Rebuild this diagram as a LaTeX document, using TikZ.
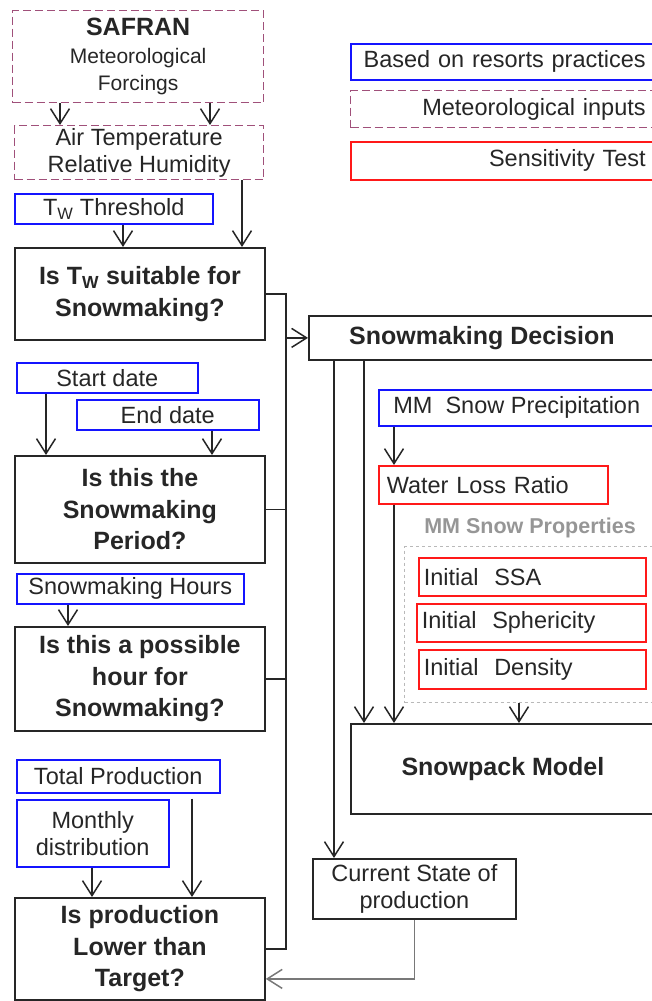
\documentclass[tikz,border=0pt]{standalone}
\usepackage{fontspec}
\setmainfont{Liberation Sans}
\usetikzlibrary{arrows.meta,positioning}
\definecolor{metpurple}{RGB}{160,80,122}
\definecolor{pracblue}{RGB}{20,20,255}
\definecolor{sensred}{RGB}{255,25,25}
\definecolor{propgray}{RGB}{185,185,185}
\definecolor{labelgray}{RGB}{150,150,150}
\definecolor{feedgray}{RGB}{120,120,120}
\newcommand{\txtsize}{\fontsize{23.5}{27}\selectfont}
\newcommand{\subsize}{\fontsize{21}{27.5}\selectfont}
\newcommand{\qsize}{\fontsize{25}{31.5}\selectfont\bfseries}
\tikzset{
  base/.style     ={rectangle,inner sep=2pt,align=center,text=black!85,
                    font=\txtsize,anchor=north west},
  metbox/.style   ={base,draw=metpurple,line width=1.3pt,dash pattern=on 8pt off 4pt},
  pracbox/.style  ={base,draw=pracblue,line width=1.5pt},
  sensbox/.style  ={base,draw=sensred,line width=1.5pt},
  question/.style ={base,draw=black!85,line width=1.8pt,font=\qsize},
  plainbox/.style ={base,draw=black!85,line width=1.8pt},
  arr/.style      ={-{Straight Barb[length=15pt,width=19pt]},line width=1.5pt,draw=black!85},
  link/.style     ={line width=1.5pt,draw=black!85}
}
\begin{document}
\begin{tikzpicture}[x=1pt,y=-1pt]
  \useasboundingbox (0,0) rectangle (651,1001);
  % Nodes (left column)
  \node (safran)  [metbox, font=\subsize, minimum width=251, minimum height=92] at (12,10)
        {{\fontsize{25}{28}\selectfont\bfseries SAFRAN}\\Meteorological\\Forcings};
  \node (airtemp) [metbox, minimum width=249, minimum height=54] at (14,125)
        {Air Temperature\\Relative Humidity};
  \node (twthr)   [pracbox, minimum width=198, minimum height=30] at (14,193)
        {T\textsubscript{W} Threshold};
  \node (q1)      [question, minimum width=250, minimum height=92] at (14,247)
        {Is T\textsubscript{W} suitable for\\Snowmaking?};
  \node (startdate) [pracbox, minimum width=181, minimum height=30] at (16,362) {Start date};
  \node (enddate)   [pracbox, minimum width=182, minimum height=30] at (76,399) {End date};
  \node (q2)      [question, minimum width=250, minimum height=107] at (14,455)
        {Is this the\\Snowmaking\\Period?};
  \node (hours)   [pracbox, minimum width=227, minimum height=30] at (16,573) {Snowmaking Hours};
  \node (q3)      [question, minimum width=250, minimum height=104] at (14,626)
        {Is this a possible\\hour for\\Snowmaking?};
  \node (total)   [pracbox, minimum width=203, minimum height=33] at (16,759) {Total Production};
  \node (monthly) [pracbox, minimum width=152, minimum height=67] at (16,799) {Monthly\\distribution};
  \node (q4)      [question, minimum width=250, minimum height=102] at (14,897)
        {Is production\\Lower than\\Target?};

  % Nodes (right column)
  \node (leg1) [pracbox, text width=287, inner xsep=8, align=right, minimum height=36] at (350,43)
        {Based on resorts practices};
  \node (leg2) [metbox, text width=287, inner xsep=8, align=right, minimum height=37] at (350,90)
        {Meteorological inputs};
  \node (leg3) [sensbox, text width=287, inner xsep=8, align=right, minimum height=38] at (350,141)
        {Sensitivity Test};
  \node (decision)  [question, minimum width=346, minimum height=44] at (308,315) {Snowmaking Decision};
  \node (precip)    [pracbox, minimum width=276, minimum height=36] at (378,389) {MM~~Snow Precipitation};
  \node (waterloss) [sensbox, text width=213, inner xsep=8, align=left, minimum height=38] at (378,465)
        {Water Loss Ratio};
  \node (propslabel) [font=\fontsize{21.5}{24}\selectfont\bfseries, text=labelgray] at (530,528)
        {MM Snow Properties};
  \node (props)   [base, draw=propgray, dashed, line width=1pt, minimum width=250, minimum height=156] at (404,546) {};
  \node (ssa)     [sensbox, text width=217, inner xsep=5, align=left, minimum height=38] at (418,557)
        {Initial~~SSA};
  \node (spher)   [sensbox, text width=219, inner xsep=5, align=left, minimum height=38] at (416,603)
        {Initial~~Sphericity};
  \node (density) [sensbox, text width=217, inner xsep=5, align=left, minimum height=39] at (418,649)
        {Initial~~Density};
  \node (snowpack) [question, minimum width=304, minimum height=90] at (350,723) {Snowpack Model};
  \node (current)  [plainbox, minimum width=203, minimum height=60] at (312,858)
        {Current State of\\production};
  \coordinate (bus) at (286,0);

  % Arrows
  \draw [arr] (safran.south -| 60,0) -- (airtemp.north -| 60,0);
  \draw [arr] (safran.south -| 210,0) -- (airtemp.north -| 210,0);
  \draw [arr] (twthr.south -| 123,0) -- (q1.north -| 123,0);
  \draw [arr] (airtemp.south -| 242,0) -- (q1.north -| 242,0);
  \draw [arr] (startdate.south -| 46,0) -- (q2.north -| 46,0);
  \draw [arr] (enddate.south -| 212,0) -- (q2.north -| 212,0);
  \draw [arr] (hours.south -| 68,0) -- (q3.north -| 68,0);
  \draw [arr] (monthly.south -| 92,0) -- (q4.north -| 92,0);
  \draw [arr, shorten <=5pt] (total.south -| 192,0) -- (q4.north -| 192,0);
  \draw [link] (q1.east) -| (bus |- q4.east) -- (q4.east);
  \draw [link] (q2.east) -- (q2.east -| bus);
  \draw [link] (q3.east) -- (q3.east -| bus);
  \draw [arr] (decision.west -| bus) -- (decision.west);
  \draw [arr] (decision.south -| 334,0) -- (current.north -| 334,0);
  \draw [arr] (decision.south -| 364,0) -- (snowpack.north -| 364,0);
  \draw [arr] (precip.south -| 394,0) -- (waterloss.north -| 394,0);
  \draw [arr] (waterloss.south -| 394,0) -- (snowpack.north -| 394,0);
  \draw [arr] (props.south -| 519,0) -- (snowpack.north -| 519,0);
  \draw [arr, draw=feedgray] (current.south) |- ([yshift=-30pt]q4.east);
\end{tikzpicture}
\end{document}
